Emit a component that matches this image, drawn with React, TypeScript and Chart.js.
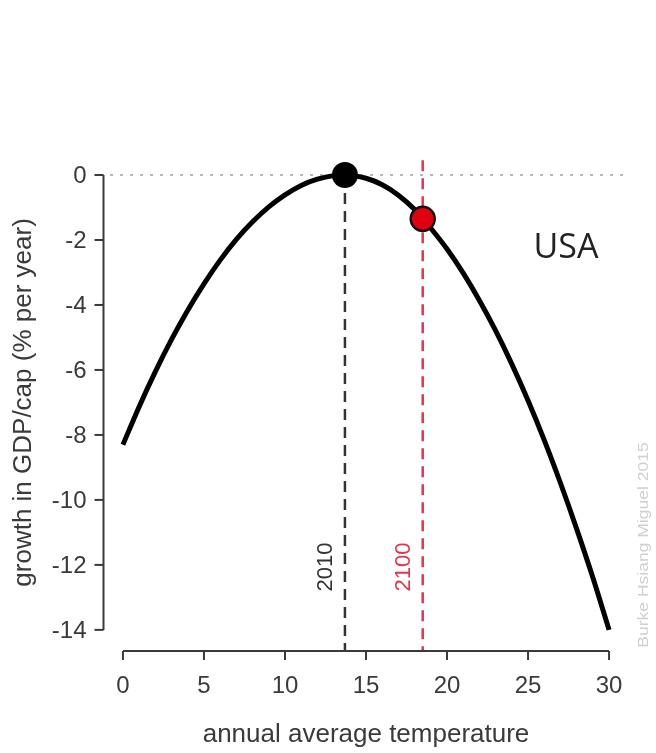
import React, { useEffect, useRef } from "react";
import { Chart, registerables } from "chart.js";

Chart.register(...registerables);

// Curve: annual average temperature (°C) vs growth in GDP/cap (% per year)
const tempX = [0, 1, 2, 3, 4, 5, 6, 7, 8, 9, 10, 11, 12, 13, 13.7, 15, 16, 17, 18, 18.5, 19, 20, 21, 22, 23, 24, 25, 26, 27, 28, 29, 30];
const growthY = [-8.3, -7.13, -6.05, -5.06, -4.16, -3.35, -2.62, -1.98, -1.44, -0.98, -0.61, -0.32, -0.13, -0.02, 0, -0.1, -0.3, -0.62, -1.06, -1.35, -1.64, -2.28, -3.02, -3.86, -4.79, -5.82, -6.94, -8.16, -9.48, -10.89, -12.39, -14.0];

const markerLabels = ["2010", "2100"];
const markerTemp = [13.7, 18.5];
const markerGrowth = [0, -1.35];

const xTicks = [0, 5, 10, 15, 20, 25, 30];
const yTicks = [0, -2, -4, -6, -8, -10, -12, -14];

const xRange = [-1.2, 31.2];
const yRange = [-14.65, 0.8];
const redLineTop = 0.45;

const xTitle = "annual average temperature";
const yTitle = "growth in GDP/cap (% per year)";
const countryLabel = "USA";
const creditText = "Burke Hsiang Miguel 2015";

const FONT = "'Liberation Sans', Arial, Helvetica, sans-serif";
const AXIS_COLOR = "#3a3a3a";
const RED = "#e8324a";

const decorPlugin = {
  id: "decor",
  afterDraw(chart: any) {
    const ctx = chart.ctx;
    const xs = chart.scales.x;
    const ys = chart.scales.y;
    const area = chart.chartArea;
    ctx.save();

    // y axis (R style, detached)
    const yAxisX = area.left;
    ctx.strokeStyle = AXIS_COLOR;
    ctx.lineWidth = 2;
    ctx.beginPath();
    ctx.moveTo(yAxisX, ys.getPixelForValue(yTicks[0]));
    ctx.lineTo(yAxisX, ys.getPixelForValue(yTicks[yTicks.length - 1]));
    ctx.stroke();
    ctx.fillStyle = AXIS_COLOR;
    ctx.font = `24px ${FONT}`;
    ctx.textAlign = "right";
    ctx.textBaseline = "middle";
    yTicks.forEach((v) => {
      const py = ys.getPixelForValue(v);
      ctx.beginPath();
      ctx.moveTo(yAxisX, py);
      ctx.lineTo(yAxisX - 9, py);
      ctx.stroke();
      ctx.fillText(String(v), yAxisX - 17, py + 1);
    });

    // x axis
    const xAxisY = area.bottom;
    ctx.beginPath();
    ctx.moveTo(xs.getPixelForValue(xTicks[0]), xAxisY);
    ctx.lineTo(xs.getPixelForValue(xTicks[xTicks.length - 1]), xAxisY);
    ctx.stroke();
    ctx.textAlign = "center";
    xTicks.forEach((v) => {
      const px = xs.getPixelForValue(v);
      ctx.beginPath();
      ctx.moveTo(px, xAxisY);
      ctx.lineTo(px, xAxisY + 9);
      ctx.stroke();
      ctx.fillText(String(v), px, xAxisY + 35);
    });

    // axis titles
    ctx.font = `26px ${FONT}`;
    const midX = (xs.getPixelForValue(xTicks[0]) + xs.getPixelForValue(xTicks[xTicks.length - 1])) / 2;
    ctx.fillText(xTitle, midX, xAxisY + 84);
    const midY = (ys.getPixelForValue(yTicks[0]) + ys.getPixelForValue(yTicks[yTicks.length - 1])) / 2;
    ctx.save();
    ctx.translate(24, midY);
    ctx.rotate(-Math.PI / 2);
    ctx.fillText(yTitle, 0, 0);
    ctx.restore();

    // year labels beside the dashed lines
    ctx.font = `22px ${FONT}`;
    markerLabels.forEach((lab, i) => {
      const px = xs.getPixelForValue(markerTemp[i]);
      ctx.save();
      ctx.translate(px - 19, 567);
      ctx.rotate(-Math.PI / 2);
      ctx.fillStyle = i === 0 ? "#333333" : RED;
      ctx.fillText(lab, 0, 0);
      ctx.restore();
    });

    // country label
    ctx.font = `34px 'Open Sans', 'Noto Sans', sans-serif`;
    ctx.fillStyle = "#222222";
    ctx.fillText(countryLabel, 566, 248);

    // credit
    ctx.save();
    ctx.translate(644, 545);
    ctx.rotate(-Math.PI / 2);
    ctx.scale(1.25, 1);
    ctx.font = `14px ${FONT}`;
    ctx.fillStyle = "#cfcfcf";
    ctx.fillText(creditText, 0, 0);
    ctx.restore();

    ctx.restore();
  },
};

export default function App() {
  const ref = useRef<HTMLCanvasElement | null>(null);

  useEffect(() => {
    if (!ref.current) return;
    const curve = tempX.map((x, i) => ({ x, y: growthY[i] }));
    const chart = new Chart(ref.current, {
      type: "scatter",
      data: {
        datasets: [
          {
            label: "markers",
            data: markerTemp.map((x, i) => ({ x, y: markerGrowth[i] })),
            showLine: false,
            pointRadius: [13, 12],
            pointBackgroundColor: ["#000000", "#e00010"],
            pointBorderColor: ["#000000", "#111111"],
            pointBorderWidth: [0, 2.5],
            order: 0,
          } as any,
          {
            label: "curve",
            data: curve,
            showLine: true,
            borderColor: "#000000",
            borderWidth: 5,
            pointRadius: 0,
            cubicInterpolationMode: "monotone",
            order: 1,
          } as any,
          {
            label: "2010",
            data: [
              { x: markerTemp[0], y: markerGrowth[0] },
              { x: markerTemp[0], y: yRange[0] },
            ],
            showLine: true,
            borderColor: "#333333",
            borderWidth: 2.5,
            borderDash: [11, 7],
            pointRadius: 0,
            order: 2,
          } as any,
          {
            label: "2100",
            data: [
              { x: markerTemp[1], y: redLineTop },
              { x: markerTemp[1], y: yRange[0] },
            ],
            showLine: true,
            borderColor: RED,
            borderWidth: 2.5,
            borderDash: [11, 7],
            pointRadius: 0,
            order: 3,
          } as any,
          {
            label: "zero",
            data: [
              { x: -0.8, y: 0 },
              { x: xRange[1], y: 0 },
            ],
            showLine: true,
            borderColor: "#b8b8b8",
            borderWidth: 2,
            borderDash: [3, 7],
            pointRadius: 0,
            order: 4,
          } as any,
        ],
      },
      options: {
        responsive: false,
        animation: false,
        events: [],
        layout: { padding: { left: 103.5, right: 27.5, top: 149, bottom: 102 } },
        plugins: { legend: { display: false }, tooltip: { enabled: false } },
        scales: {
          x: { type: "linear", min: xRange[0], max: xRange[1], display: false },
          y: { type: "linear", min: yRange[0], max: yRange[1], display: false },
        },
      },
      plugins: [decorPlugin],
    });
    return () => chart.destroy();
  }, []);

  return (
    <div style={{ position: "absolute", left: 0, top: 0, width: 656, height: 753, background: "#fff" }}>
      <canvas ref={ref} width={656} height={753} style={{ display: "block" }} />
    </div>
  );
}
